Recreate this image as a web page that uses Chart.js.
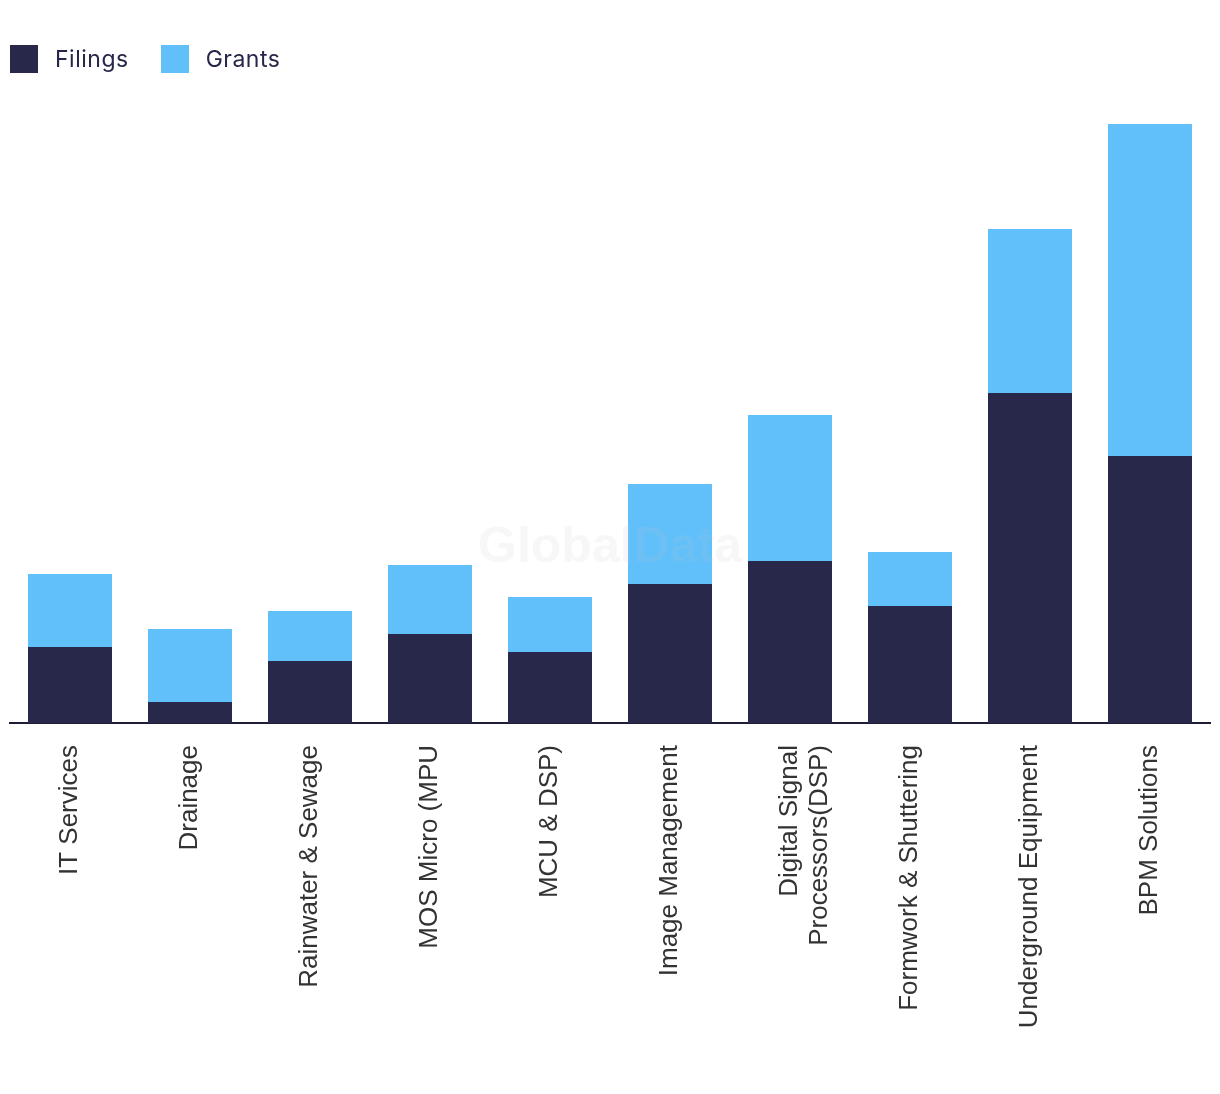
<!DOCTYPE html>
<html>
<head>
<meta charset="utf-8">
<script src="https://cdn.jsdelivr.net/npm/chart.js@4.4.1/dist/chart.umd.min.js"></script>
<style>
  html, body { margin: 0; padding: 0; background: #fff; }
  #wrap { position: relative; width: 1220px; height: 1094px; }
  #legend { position: absolute; left: 10px; top: 45px; display: flex; align-items: center;
    font-family: Inter, "Open Sans", sans-serif; font-size: 23px; letter-spacing: 0.5px; color: #26264a; }
  .item { display: flex; align-items: center; margin-right: 32px; }
  .box { width: 28px; height: 28px; margin-right: 17px; }
</style>
</head>
<body>
<div id="wrap">
  <canvas id="myChart" width="1220" height="1094"></canvas>
  <div id="legend"></div>
</div>
<script>
const categorias = [
  "IT Services", "Drainage", "Rainwater & Sewage", "MOS Micro (MPU",
  "MCU & DSP)", "Image Management", ["Digital Signal", "Processors(DSP)"],
  "Formwork & Shuttering", "Underground Equipment", "BPM Solutions"
];
const filings = [76, 21, 62, 89, 71, 139, 162, 117, 330, 267];
const grants = [73, 73, 50, 69, 55, 100, 146, 54, 164, 332];
const series = ["Filings", "Grants"];
const colores = ["#27284a", "#61c0fa"];

const legendDiv = document.getElementById("legend");
series.forEach((nombre, i) => {
  legendDiv.innerHTML += `
    <div class="item"><div class="box" style="background:${colores[i]}"></div>${nombre}</div>
  `;
});

const watermark = {
  id: "watermark",
  afterDatasetsDraw(chart) {
    const ctx = chart.ctx;
    ctx.save();
    ctx.font = "bold 50px 'Liberation Sans', Arial, sans-serif";
    ctx.fillStyle = "rgba(190, 190, 200, 0.13)";
    ctx.textAlign = "center";
    ctx.textBaseline = "middle";
    ctx.fillText("GlobalData", 610, 548);
    ctx.restore();
  }
};

const config = {
  type: "bar",
  data: {
    labels: categorias,
    datasets: [
      { label: series[0], data: filings, backgroundColor: colores[0] },
      { label: series[1], data: grants, backgroundColor: colores[1] }
    ]
  },
  options: {
    responsive: false,
    animation: false,
    layout: { padding: { top: 124, left: 10, right: 10, bottom: 0 } },
    plugins: { legend: { display: false }, tooltip: { enabled: false } },
    datasets: { bar: { categoryPercentage: 1, barPercentage: 0.7 } },
    scales: {
      x: {
        stacked: true,
        grid: { display: false, drawTicks: false },
        border: { display: true, color: "#1d1d35", width: 2 },
        ticks: {
          color: "#333",
          font: { family: "'Liberation Sans', Arial, sans-serif", size: 26, lineHeight: 1.15 },
          maxRotation: 90, minRotation: 90, padding: 22, autoSkip: false
        },
        afterFit: (scale) => { scale.height = 371; }
      },
      y: {
        stacked: true,
        display: false,
        min: 0,
        max: 599
      }
    }
  },
  plugins: [watermark]
};

new Chart(document.getElementById("myChart"), config);
</script>
</body>
</html>
